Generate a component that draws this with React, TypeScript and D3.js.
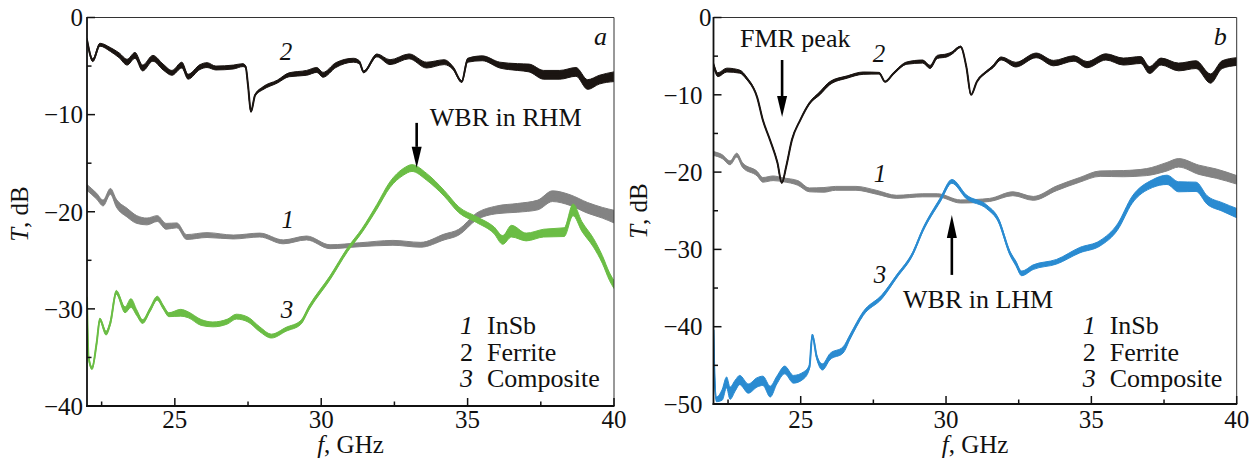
import React from "react";
import * as d3 from "d3";

type Pt = [number, number, number]; // [f GHz, T dB, visible noise band width dB]

const FONT = "'Liberation Serif', 'Times New Roman', serif";

const xDomain: [number, number] = [22, 40];
const xTickValues = [25, 30, 35, 40];
const xMinorValues = [22.5, 27.5, 32.5, 37.5];
const yTicksA = [0, -10, -20, -30, -40];
const yMinorA = [-5, -15, -25, -35];
const yTicksB = [0, -10, -20, -30, -40, -50];
const yMinorB = [-5, -15, -25, -35, -45];
const legendNumbers = ["1", "2", "3"];
const legendNames = ["InSb", "Ferrite", "Composite"];

// Panel a
const ferriteA: Pt[] = [
  [22.0, -2.3, 0.3], [22.2, -4.4, 0.3], [22.44, -2.8, 0.3], [22.8, -3.3, 0.4], [23.1, -3.9, 0.5],
  [23.37, -4.6, 0.6], [23.64, -3.9, 0.6], [23.9, -5.2, 0.6], [24.25, -4.2, 0.6], [24.6, -5.1, 0.6],
  [24.9, -5.7, 0.5], [25.24, -4.9, 0.6], [25.45, -6.1, 0.5], [25.86, -5.1, 0.5], [26.1, -4.9, 0.5],
  [26.4, -5.2, 0.4], [27.0, -5.1, 0.4], [27.33, -4.9, 0.3], [27.42, -5.1, 0.2], [27.5, -7.0, 0.05],
  [27.6, -9.7, 0.05], [27.74, -8.0, 0.15], [28.0, -7.3, 0.3], [28.5, -6.6, 0.3], [28.9, -5.9, 0.4],
  [29.5, -5.7, 0.5], [29.85, -5.4, 0.5], [30.06, -5.9, 0.5], [30.5, -4.9, 0.5], [31.1, -4.4, 0.4],
  [31.3, -4.6, 0.3], [31.45, -5.6, 0.2], [31.9, -3.9, 0.3], [32.35, -4.6, 0.5], [33.0, -4.0, 0.5],
  [33.6, -4.9, 0.6], [34.2, -4.6, 0.5], [34.5, -5.2, 0.3], [34.8, -6.6, 0.2], [35.0, -4.4, 0.4],
  [35.5, -4.2, 0.5], [36.1, -4.9, 0.6], [36.7, -5.1, 0.7], [37.1, -5.2, 0.8], [37.6, -5.9, 0.9],
  [38.15, -5.9, 0.9], [38.7, -5.6, 0.9], [39.1, -6.9, 1.0], [39.5, -6.4, 0.9], [40.0, -6.1, 1.0],
];

const insbA: Pt[] = [
  [22.0, -17.5, 0.6], [22.33, -18.4, 0.6], [22.55, -19.1, 0.6], [22.8, -17.9, 0.6], [23.0, -19.1, 0.8],
  [23.37, -20.1, 0.9], [23.7, -20.8, 0.8], [24.05, -21.0, 0.7], [24.4, -20.7, 0.6], [24.7, -21.5, 0.6],
  [25.07, -21.4, 0.5], [25.4, -22.6, 0.5], [26.1, -22.4, 0.5], [27.0, -22.6, 0.4], [27.9, -22.4, 0.4],
  [28.7, -23.1, 0.4], [29.5, -22.7, 0.4], [30.3, -23.6, 0.4], [31.3, -23.4, 0.4], [32.45, -23.2, 0.5],
  [33.4, -23.4, 0.5], [34.2, -22.6, 0.6], [34.7, -22.1, 0.6], [35.3, -20.5, 0.7], [36.0, -19.8, 0.8],
  [36.7, -19.6, 0.9], [37.4, -19.3, 1.0], [37.9, -18.4, 1.1], [38.5, -18.8, 1.1], [39.1, -19.6, 1.1],
  [39.6, -20.1, 1.1], [40.0, -20.5, 1.3],
];

const compositeA: Pt[] = [
  [22.0, -28.9, 0.3], [22.05, -34.9, 0.3], [22.17, -36.1, 0.3], [22.33, -33.5, 0.3], [22.44, -31.1, 0.3],
  [22.65, -32.5, 0.4], [22.8, -31.4, 0.4], [23.0, -28.3, 0.4], [23.3, -30.1, 0.6], [23.5, -29.4, 0.9],
  [23.7, -30.4, 0.6], [23.9, -31.3, 0.4], [24.15, -30.1, 0.4], [24.4, -28.9, 0.4], [24.6, -29.8, 0.4],
  [24.8, -30.6, 0.4], [25.2, -30.4, 0.7], [25.45, -30.6, 0.6], [25.9, -31.4, 0.6], [26.3, -31.6, 0.5],
  [26.8, -31.3, 0.5], [27.1, -30.8, 0.5], [27.5, -31.1, 0.5], [27.9, -32.1, 0.5], [28.3, -32.8, 0.4],
  [28.8, -32.1, 0.4], [29.3, -31.4, 0.4], [29.6, -29.8, 0.4], [30.3, -26.8, 0.4], [30.9, -23.9, 0.4],
  [31.4, -21.9, 0.4], [31.9, -19.5, 0.5], [32.35, -17.2, 0.6], [32.8, -15.9, 0.7], [33.1, -15.5, 0.7],
  [33.6, -16.4, 0.7], [34.2, -18.1, 0.6], [34.7, -19.8, 0.6], [35.3, -20.8, 0.6], [35.9, -21.9, 0.7],
  [36.2, -22.9, 0.9], [36.5, -22.0, 1.2], [37.0, -22.6, 0.8], [37.6, -22.2, 0.8], [38.3, -22.1, 0.9],
  [38.6, -19.8, 1.2], [38.9, -21.5, 1.0], [39.3, -23.2, 0.9], [39.6, -24.9, 0.8], [39.85, -26.7, 0.8],
  [40.0, -27.5, 0.8],
];

// Panel b
const ferriteB: Pt[] = [
  [22.0, -6.1, 0.5], [22.15, -7.4, 0.5], [22.46, -6.8, 0.5], [22.9, -7.0, 0.4], [23.15, -7.9, 0.3],
  [23.5, -10.3, 0.1], [23.7, -13.3, 0], [23.94, -15.8, 0], [24.2, -18.8, 0], [24.35, -21.4, 0],
  [24.5, -19.3, 0], [24.7, -15.8, 0], [24.98, -13.3, 0.1], [25.3, -11.1, 0.2], [25.66, -9.8, 0.4],
  [26.0, -8.5, 0.4], [26.6, -7.7, 0.3], [27.15, -7.2, 0.3], [27.7, -7.2, 0.2], [27.9, -8.3, 0.1],
  [28.2, -7.2, 0.2], [28.65, -5.9, 0.3], [29.2, -5.7, 0.4], [29.45, -6.4, 0.4], [29.7, -5.1, 0.4],
  [30.03, -4.9, 0.4], [30.2, -4.6, 0.3], [30.5, -3.8, 0.2], [30.7, -6.4, 0], [30.86, -10.0, 0],
  [31.06, -8.3, 0.1], [31.4, -7.0, 0.2], [31.6, -6.4, 0.3], [31.9, -5.3, 0.4], [32.4, -6.1, 0.6],
  [33.1, -4.9, 0.6], [33.7, -5.9, 0.7], [34.4, -5.3, 0.7], [34.85, -6.1, 0.8], [35.5, -5.1, 0.8],
  [36.1, -5.7, 0.9], [36.7, -5.5, 0.9], [37.0, -6.8, 0.9], [37.4, -5.7, 0.9], [38.0, -6.4, 1.0],
  [38.6, -6.1, 1.0], [39.1, -7.9, 1.2], [39.5, -6.1, 1.0], [40.0, -5.7, 1.0],
];

const insbB: Pt[] = [
  [22.0, -17.6, 0.5], [22.3, -18.0, 0.5], [22.57, -18.8, 0.5], [22.8, -17.8, 0.5], [23.0, -19.1, 0.6],
  [23.5, -20.2, 0.6], [23.7, -21.0, 0.6], [24.05, -20.8, 0.6], [24.4, -21.0, 0.5], [24.9, -21.4, 0.6],
  [25.3, -22.3, 0.5], [25.8, -22.3, 0.6], [26.2, -22.1, 0.5], [26.9, -22.1, 0.5], [27.6, -22.6, 0.5],
  [28.3, -23.2, 0.4], [29.2, -23.0, 0.4], [29.7, -23.0, 0.4], [30.5, -23.8, 0.4], [31.5, -23.6, 0.4],
  [32.3, -22.8, 0.5], [33.0, -23.4, 0.5], [33.8, -22.1, 0.6], [34.6, -21.0, 0.6], [35.3, -20.2, 0.7],
  [36.1, -20.2, 0.8], [36.9, -20.0, 0.9], [37.6, -19.3, 1.1], [38.0, -18.8, 1.1], [38.7, -19.7, 1.2],
  [39.3, -20.2, 1.2], [40.0, -21.0, 1.1],
];

const compositeB: Pt[] = [
  [22.0, -40.4, 0.3], [22.02, -44.7, 0.3], [22.1, -49.4, 0.6], [22.3, -48.8, 1.4], [22.45, -47.2, 1.4],
  [22.57, -48.6, 1.6], [22.75, -47.6, 1.4], [22.9, -46.9, 1.2], [23.2, -48.0, 1.2], [23.5, -47.2, 1.2],
  [23.7, -47.0, 1.2], [23.95, -48.4, 1.4], [24.18, -46.9, 1.0], [24.45, -45.6, 1.0], [24.75, -46.8, 1.0],
  [25.1, -46.3, 0.9], [25.3, -45.2, 0.5], [25.4, -41.1, 0.3], [25.55, -43.9, 0.5], [25.75, -45.2, 0.8],
  [26.0, -43.9, 0.8], [26.46, -43.0, 0.8], [26.7, -41.3, 0.6], [27.15, -38.3, 0.5], [27.8, -36.1, 0.5],
  [28.3, -33.5, 0.4], [28.86, -30.5, 0.4], [29.2, -27.5, 0.4], [29.8, -23.6, 0.5], [30.2, -21.2, 0.5],
  [30.7, -23.2, 0.5], [31.4, -24.5, 0.5], [31.8, -26.2, 0.5], [32.2, -30.5, 0.5], [32.4, -31.8, 0.6],
  [32.6, -33.1, 0.6], [33.0, -32.3, 0.6], [33.8, -31.6, 0.6], [34.6, -30.1, 0.7], [35.3, -29.2, 0.7],
  [35.9, -27.1, 0.8], [36.4, -23.6, 0.9], [37.1, -21.5, 1.0], [37.6, -21.0, 1.2], [38.0, -21.9, 1.3],
  [38.6, -21.9, 1.2], [38.98, -23.6, 1.1], [39.5, -24.5, 1.1], [40.0, -25.3, 1.2],
];

const COLORS = {
  ferrite: "#1b1512",
  insb: "#838383",
  green: "#6bbd45",
  blue: "#2a8bd1",
};

type Label = { text: string; f: number; t: number };
type Arrow = { f: number; tFrom: number; tTo: number; head: number };

type PanelProps = {
  id: string;
  xRange: [number, number];
  yRange: [number, number]; // [bottom, top]
  yDomain: [number, number];
  yTicks: number[];
  yMinor: number[];
  labelGap: number;
  zeroGap: number;
  yTitleX: number;
  yTitleY: number;
  series: { data: Pt[]; color: string }[];
  curveLabels: Label[];
  letter: Label;
  texts: Label[];
  arrows: Arrow[];
};

function Panel(p: PanelProps) {
  const x = d3.scaleLinear().domain(xDomain).range(p.xRange);
  const y = d3.scaleLinear().domain(p.yDomain).range(p.yRange);
  const [xl, xr] = p.xRange;
  const [yb, yt] = p.yRange;

  const line = d3
    .line<Pt>()
    .curve(d3.curveMonotoneX)
    .x((d) => x(d[0]))
    .y((d) => y(d[1]));
  const band = d3
    .area<Pt>()
    .curve(d3.curveMonotoneX)
    .x((d) => x(d[0]))
    .y0((d) => y(d[1] - d[2] / 2))
    .y1((d) => y(d[1] + d[2] / 2));

  return (
    <g>
      <defs>
        <clipPath id={`clip-${p.id}`}>
          <rect x={xl} y={yt} width={xr - xl} height={yb - yt} />
        </clipPath>
      </defs>
      <g clipPath={`url(#clip-${p.id})`}>
        {p.series.map((s, i) => (
          <g key={i}>
            <path d={band(s.data) || ""} fill={s.color} stroke={s.color} strokeWidth={1} />
            <path d={line(s.data) || ""} fill="none" stroke={s.color} strokeWidth={2} strokeLinejoin="round" />
          </g>
        ))}
      </g>
      {/* frame */}
      <line x1={xl} x2={xr} y1={yt} y2={yt} stroke="#333" strokeWidth={1} />
      <line x1={xr} x2={xr} y1={yt} y2={yb} stroke="#333" strokeWidth={1} />
      <line x1={xl} x2={xl} y1={yt - 0.5} y2={yb + 1} stroke="#111" strokeWidth={1.8} />
      <line x1={xl - 0.9} x2={xr + 0.5} y1={yb} y2={yb} stroke="#111" strokeWidth={1.8} />
      {/* ticks */}
      {p.yTicks.map((v) => (
        <g key={"yt" + v}>
          <line x1={xl} x2={xl + 8} y1={y(v)} y2={y(v)} stroke="#111" strokeWidth={1.5} />
          <text
            x={xl - (v === 0 ? p.zeroGap : p.labelGap)}
            y={y(v)}
            dy="0.35em"
            textAnchor="end"
            fontSize={25}
            fontFamily={FONT}
            fill="#111"
          >
            {v < 0 ? "\u2212" + Math.abs(v) : String(v)}
          </text>
        </g>
      ))}
      {p.yMinor.map((v) => (
        <line key={"ym" + v} x1={xl} x2={xl + 4.5} y1={y(v)} y2={y(v)} stroke="#111" strokeWidth={1.5} />
      ))}
      {xTickValues.map((v) => (
        <g key={"xt" + v}>
          <line x1={x(v)} x2={x(v)} y1={yb} y2={yb - 8} stroke="#111" strokeWidth={1.5} />
          <text x={x(v)} y={428} textAnchor="middle" fontSize={25} fontFamily={FONT} fill="#111">
            {v}
          </text>
        </g>
      ))}
      {xMinorValues.map((v) => (
        <line key={"xm" + v} x1={x(v)} x2={x(v)} y1={yb} y2={yb - 4.5} stroke="#111" strokeWidth={1.5} />
      ))}
      {/* axis titles */}
      <text x={(xl + xr) / 2} y={453} textAnchor="middle" fontSize={25} fontFamily={FONT} fill="#111">
        <tspan fontStyle="italic">f</tspan>, GHz
      </text>
      <text
        transform={`translate(${p.yTitleX},${p.yTitleY}) rotate(-90)`}
        textAnchor="middle"
        fontSize={25}
        fontFamily={FONT}
        fill="#111"
      >
        <tspan fontStyle="italic">T</tspan>, dB
      </text>
      {/* curve labels */}
      {p.curveLabels.map((l, i) => (
        <text key={"cl" + i} x={x(l.f)} y={y(l.t)} textAnchor="middle" fontSize={25} fontStyle="italic" fontFamily={FONT} fill="#111">
          {l.text}
        </text>
      ))}
      <text x={x(p.letter.f)} y={y(p.letter.t)} textAnchor="end" fontSize={26} fontStyle="italic" fontFamily={FONT} fill="#111">
        {p.letter.text}
      </text>
      {p.texts.map((l, i) => (
        <text key={"tx" + i} x={x(l.f)} y={y(l.t)} textAnchor="start" fontSize={26} fontFamily={FONT} fill="#111">
          {l.text}
        </text>
      ))}
      {p.arrows.map((a, i) => {
        const ax = x(a.f);
        const y0 = y(a.tFrom);
        const y1 = y(a.tTo);
        const dir = y1 > y0 ? 1 : -1;
        const hb = y1 - dir * a.head;
        return (
          <g key={"ar" + i}>
            <line x1={ax} x2={ax} y1={y0} y2={hb} stroke="#000" strokeWidth={2.6} />
            <polygon points={`${ax - 5},${hb} ${ax + 5},${hb} ${ax},${y1}`} fill="#000" />
          </g>
        );
      })}
      {/* legend */}
      {legendNumbers.map((n, i) => (
        <g key={"lg" + i}>
          <text
            x={xr - 141}
            y={334 + i * 26.5}
            textAnchor="end"
            fontSize={26}
            fontStyle={n === "2" ? "normal" : "italic"}
            fontFamily={FONT}
            fill="#111"
          >
            {n}
          </text>
          <text x={xr - 127} y={334 + i * 26.5} textAnchor="start" fontSize={26} fontFamily={FONT} fill="#111">
            {legendNames[i]}
          </text>
        </g>
      ))}
    </g>
  );
}

export default function App() {
  return (
    <div style={{ position: "absolute", left: 0, top: 0 }}>
      <svg width={1260} height={459} viewBox="0 0 1260 459" style={{ display: "block", background: "#fff" }}>
        <Panel
          id="a"
          xRange={[87, 614]}
          yRange={[406, 17.5]}
          yDomain={[-40, 0]}
          yTicks={yTicksA}
          yMinor={yMinorA}
          labelGap={4}
          zeroGap={4}
          yTitleX={28}
          yTitleY={214}
          series={[
            { data: insbA, color: COLORS.insb },
            { data: ferriteA, color: COLORS.ferrite },
            { data: compositeA, color: COLORS.green },
          ]}
          curveLabels={[
            { text: "2", f: 28.8, t: -4.37 },
            { text: "1", f: 28.86, t: -21.66 },
            { text: "3", f: 28.83, t: -30.9 },
          ]}
          letter={{ text: "a", f: 39.76, t: -2.83 }}
          texts={[{ text: "WBR in RHM", f: 33.71, t: -11.16 }]}
          arrows={[{ f: 33.26, tFrom: -10.85, tTo: -15.48, head: 21 }]}
        />
        <Panel
          id="b"
          xRange={[713.5, 1236.7]}
          yRange={[404, 17.5]}
          yDomain={[-50, 0]}
          yTicks={yTicksB}
          yMinor={yMinorB}
          labelGap={11}
          zeroGap={2}
          yTitleX={647}
          yTitleY={211}
          series={[
            { data: insbB, color: COLORS.insb },
            { data: compositeB, color: COLORS.blue },
            { data: ferriteB, color: COLORS.ferrite },
          ]}
          curveLabels={[
            { text: "2", f: 27.69, t: -5.76 },
            { text: "1", f: 27.73, t: -21.3 },
            { text: "3", f: 27.73, t: -34.35 },
          ]}
          letter={{ text: "b", f: 39.66, t: -3.56 }}
          texts={[
            { text: "FMR peak", f: 22.91, t: -3.82 },
            { text: "WBR in LHM", f: 28.52, t: -37.6 },
          ]}
          arrows={[
            { f: 24.36, tFrom: -5.5, tTo: -12.87, head: 21 },
            { f: 30.2, tFrom: -33.3, tTo: -25.55, head: 23 },
          ]}
        />
      </svg>
    </div>
  );
}
